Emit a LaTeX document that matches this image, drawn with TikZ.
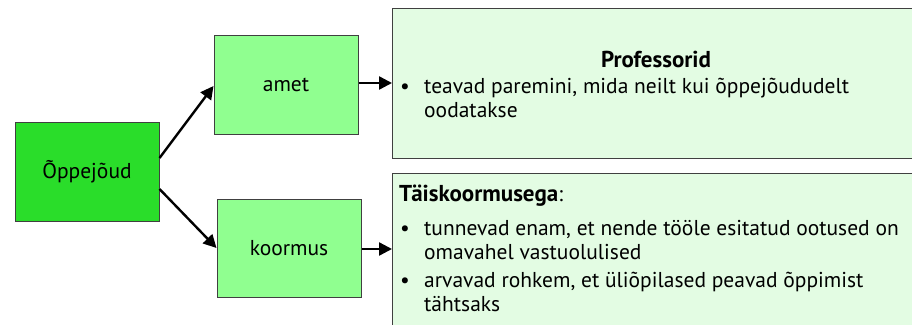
\documentclass[tikz,border=0pt]{standalone}
\usepackage{fontspec}
\setmainfont{PT Sans}
\usetikzlibrary{arrows.meta}
\definecolor{gdark}{HTML}{2ADD2A}
\definecolor{gmid}{HTML}{90FF90}
\definecolor{gpale}{HTML}{E3FCE3}
\definecolor{bord}{HTML}{404040}
\tikzset{
  box/.style={draw=bord, line width=1pt, inner sep=0pt},
  conn/.style={line width=2.4pt, -{Triangle[length=13pt,width=13pt]}},
  lbl/.style={font=\fontsize{21.5}{25}\selectfont, inner sep=0pt},
  txt/.style={font=\fontsize{21.5}{25}\selectfont, inner sep=0pt, anchor=base west},
}
\begin{document}
\begin{tikzpicture}[x=1pt,y=-1pt]
\useasboundingbox (0,0) rectangle (912,324);
\clip (0,0) rectangle (912,324);
\fill[white] (0,0) rectangle (912,324);
% boxes
\node[box, fill=gdark, minimum width=144pt, minimum height=99pt] (opp) at (87,171.5) {};
\node[lbl] at (opp.center) {Õppejõud};
\node[box, fill=gmid, minimum width=144pt, minimum height=99pt] (amet) at (286,84.5) {};
\node[lbl] at (amet.center) {amet};
\node[box, fill=gmid, minimum width=144pt, minimum height=98pt] (koor) at (289,248) {};
\node[lbl] at (koor.center) {koormus};
\draw[box, fill=gpale] (392,8) rectangle (930,158);
\coordinate (prof) at (392,83);
\draw[box, fill=gpale] (392,173) rectangle (930,340);
\coordinate (tais) at (392,249);
% connectors
\draw[conn] (opp.east |- 0,158) -- (amet.west |- 0,86);
\draw[conn] (opp.east |- 0,189) -- (koor.west |- 0,248);
\draw[conn] (amet.east |- 0,83) -- (prof);
\draw[conn] (koor.east |- 0,249) -- (tais);
% top text
\node[lbl, anchor=base, font=\fontsize{23}{26}\selectfont\bfseries] at (656,67) {Professorid};
\node[txt] at (400,93) {\textbullet};
\node[txt] at (424,93) {teavad paremini, mida neilt kui õppejõududelt};
\node[txt] at (424,117) {oodatakse};
% bottom text
\node[txt] at (399,201) {{\fontsize{23}{26}\selectfont\bfseries Täiskoormusega}:};
\node[txt] at (400,235) {\textbullet};
\node[txt] at (424,235) {tunnevad enam, et nende tööle esitatud ootused on};
\node[txt] at (424,259) {omavahel vastuolulised};
\node[txt] at (400,287) {\textbullet};
\node[txt] at (424,287) {arvavad rohkem, et üliõpilased peavad õppimist};
\node[txt] at (424,311) {tähtsaks};
\end{tikzpicture}
\end{document}
